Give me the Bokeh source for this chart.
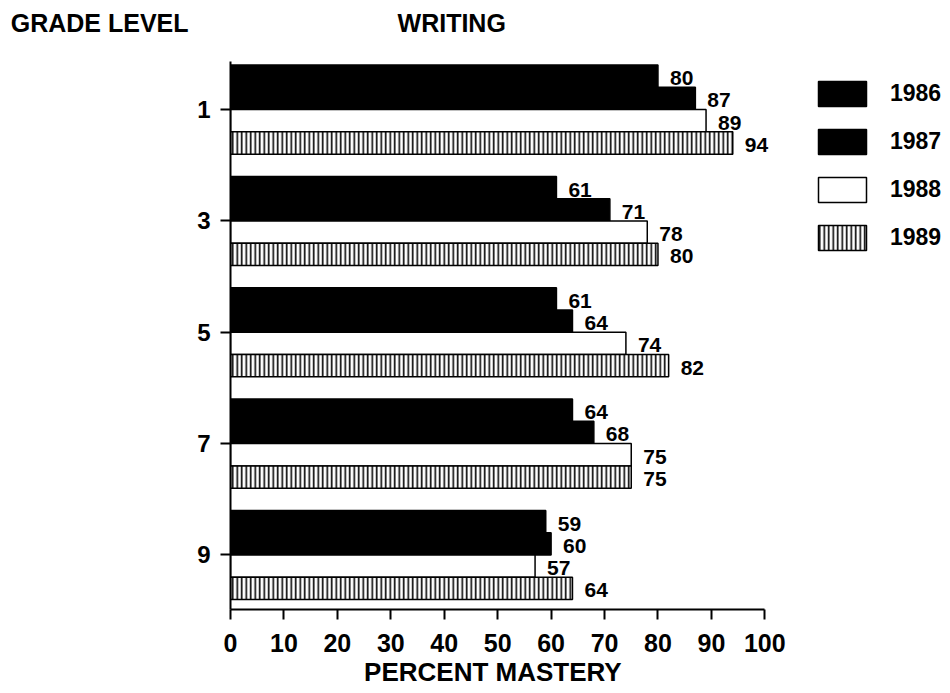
from bokeh.plotting import figure
from bokeh.models import Range1d, Legend, LegendItem, ColumnDataSource, LinearAxis, FixedTicker
from bokeh.core.properties import value
from bokeh.embed import file_html
from bokeh.resources import INLINE

# ---- data ----
grades = ["1", "3", "5", "7", "9"]
years = ["1986", "1987", "1988", "1989"]
v1986 = [80, 61, 61, 64, 59]
v1987 = [87, 71, 64, 68, 60]
v1988 = [89, 78, 74, 75, 57]
v1989 = [94, 80, 82, 75, 64]
x_ticks = [0, 10, 20, 30, 40, 50, 60, 70, 80, 90, 100]
title_text = "WRITING"
y_title = "GRADE LEVEL"
x_title = "PERCENT MASTERY"

series = {"1986": v1986, "1987": v1987, "1988": v1988, "1989": v1989}
offsets = {"1986": -0.3, "1987": -0.1, "1988": 0.1, "1989": 0.3}
styles = {
    "1986": dict(fill_color="black"),
    "1987": dict(fill_color="black"),
    "1988": dict(fill_color="white"),
    "1989": dict(fill_color="white", hatch_pattern="vertical_line",
                 hatch_color="black", hatch_scale=4.5, hatch_weight=1.6),
}

FONT = value("Liberation Sans")
TITLE_Y = -0.78    # header row, above the first grade
XTITLE_X = 49.1    # centre of the x-axis title

p = figure(width=948, height=693,
           x_range=Range1d(0, 134), y_range=Range1d(4.49, -0.98),
           output_backend="svg", toolbar_location=None,
           min_border_left=230, min_border_right=2,
           min_border_top=0, min_border_bottom=84)

p.outline_line_color = None
p.xgrid.visible = False
p.ygrid.visible = False
p.background_fill_color = "white"
p.border_fill_color = "white"

items = []
for yr in years:
    vals = series[yr]
    ys = [i + offsets[yr] for i in range(len(grades))]
    src = ColumnDataSource(dict(y=ys, right=vals, lab=[str(v) for v in vals]))
    r = p.hbar(y="y", left=0, right="right", height=0.2, source=src,
               line_color="black", line_width=1.5, **styles[yr])
    items.append(LegendItem(label=yr, renderers=[r]))
    p.text(x="right", y="y", text="lab", source=src, x_offset=12, y_offset=2,
           text_font=FONT, text_font_style="bold", text_font_size="21px",
           text_baseline="middle", text_align="left", text_color="black")

# chart title
p.text(x=[41.4], y=[TITLE_Y], text=[title_text], text_font=FONT, text_font_style="bold",
       text_font_size="25px", text_align="center", text_baseline="middle",
       text_color="black")


def bare(ax):
    ax.axis_line_color = None
    ax.major_tick_line_color = None
    ax.minor_tick_line_color = None
    ax.major_tick_out = 0
    ax.major_tick_in = 0
    ax.minor_tick_out = 0
    ax.minor_tick_in = 0
    ax.major_label_text_font = "Liberation Sans"
    ax.major_label_text_font_style = "bold"
    ax.major_label_text_color = "black"


# x axis
xa = p.xaxis[0]
xa.ticker = x_ticks
xa.bounds = (0, 100)
xa.axis_line_width = 2
xa.major_tick_line_width = 2
xa.major_tick_out = 10
xa.major_tick_in = 0
xa.minor_tick_out = 0
xa.minor_tick_in = 0
xa.major_label_standoff = 14
xa.major_label_text_font = "Liberation Sans"
xa.major_label_text_font_style = "bold"
xa.major_label_text_font_size = "25px"
xa.major_label_text_color = "black"

# x-axis title as an outer bottom axis label (centred under 0..100)
xt = LinearAxis(ticker=FixedTicker(ticks=[XTITLE_X]),
                major_label_overrides={XTITLE_X: x_title})
bare(xt)
xt.major_label_standoff = 2
xt.major_label_text_font_size = "26px"
p.add_layout(xt, "below")

# y axis
ya = p.yaxis[0]
ya.ticker = list(range(len(grades)))
ya.major_label_overrides = {i: g for i, g in enumerate(grades)}
ya.bounds = (-0.43, 4.49)
ya.axis_line_width = 2
ya.major_tick_line_width = 2
ya.major_tick_out = 10
ya.major_tick_in = 0
ya.minor_tick_out = 0
ya.minor_tick_in = 0
ya.major_label_standoff = 10
ya.major_label_text_font = "Liberation Sans"
ya.major_label_text_font_style = "bold"
ya.major_label_text_font_size = "24px"
ya.major_label_text_color = "black"

# "GRADE LEVEL" header as an outer left axis label
ga = LinearAxis(ticker=FixedTicker(ticks=[TITLE_Y]),
                major_label_overrides={TITLE_Y: y_title})
bare(ga)
ga.major_label_standoff = 6
ga.major_label_text_font_size = "25px"
p.add_layout(ga, "left")

legend = Legend(items=items, location=(582, 356), padding=0, margin=0,
                glyph_width=60, glyph_height=31, label_height=31,
                spacing=17, label_standoff=18,
                label_text_font="Liberation Sans", label_text_font_style="bold",
                label_text_font_size="23px", label_text_color="black",
                background_fill_alpha=0, border_line_alpha=0)
p.add_layout(legend)

open("out.html", "w").write(file_html(p, INLINE))
